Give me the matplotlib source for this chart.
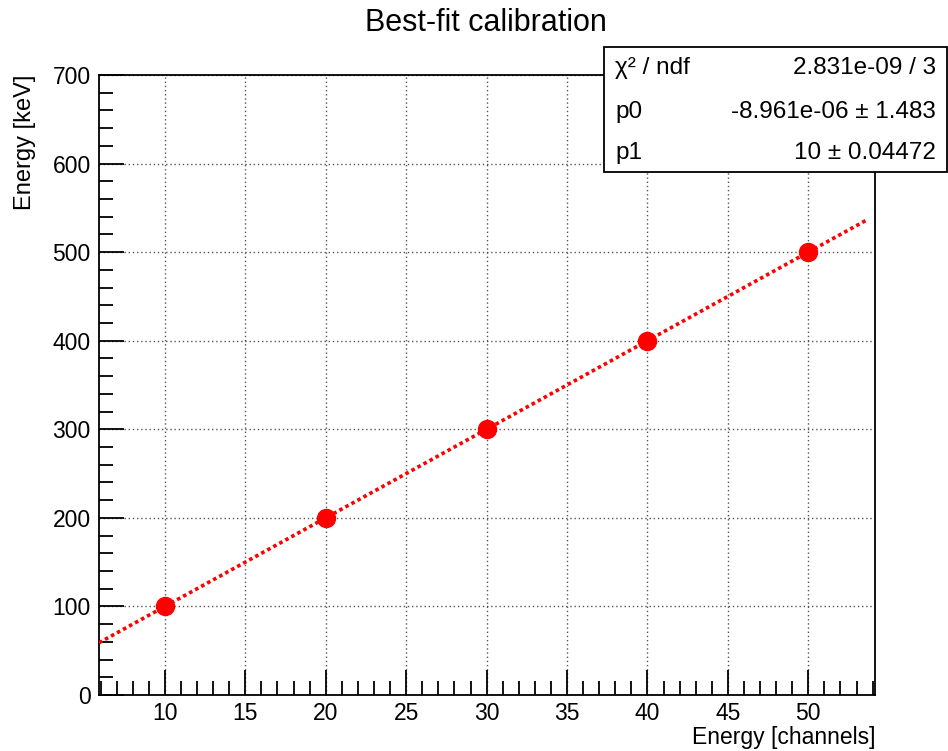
import matplotlib.pyplot as plt
from matplotlib.ticker import MultipleLocator
import numpy as np

plt.rcParams['font.family'] = ['Liberation Sans', 'DejaVu Sans']

# calibration points
channels = [10, 20, 30, 40, 50]
energy_kev = [100, 200, 300, 400, 500]

# fit result (pol1)
p0 = -8.961e-06
p1 = 10.0
stats_rows = [
    ("χ² / ndf", "2.831e-09 / 3"),
    ("p0", "-8.961e-06 ± 1.483"),
    ("p1", "10 ± 0.04472"),
]

fig = plt.figure(figsize=(9.48, 7.51), dpi=100)
ax = fig.add_axes([0.1044, 0.0746, 0.8186, 0.8255])

xmin, xmax = 5.9, 54.15
ax.set_xlim(xmin, xmax)
ax.set_ylim(0, 700)

# fitted line over the axis range
xf = np.linspace(xmin, 53.7, 200)
ax.plot(xf, p0 + p1 * xf, color='red', linestyle=(0, (1.0, 0.9)), linewidth=2.6, zorder=3)
ax.plot(channels, energy_kev, 'o', color='red', markersize=13, zorder=4)

ax.xaxis.set_major_locator(MultipleLocator(5))
ax.xaxis.set_minor_locator(MultipleLocator(1))
ax.yaxis.set_major_locator(MultipleLocator(100))
ax.yaxis.set_minor_locator(MultipleLocator(20))
ax.tick_params(which='both', direction='in', top=False, right=False, width=1.3, labelsize=16.5)
ax.tick_params(which='major', length=18)
ax.tick_params(which='minor', length=10)
ax.tick_params(axis='x', pad=5)
ax.tick_params(axis='y', pad=6)
for s in ax.spines.values():
    s.set_linewidth(1.3)

ax.grid(True, which='major', color='#555555', linestyle=(0, (1, 2)), linewidth=1.0)

ax.set_ylabel('Energy [keV]', fontsize=17, loc='top', labelpad=12)
# x title sits right-aligned under the axis end
fig.text(0.923, 0.003, 'Energy [channels]', ha='right', va='bottom', fontsize=16.5)

fig.text(0.513, 0.970, 'Best-fit calibration', ha='center', va='center', fontsize=22)

# stats box
box = plt.Rectangle((0.637, 0.771), 0.362, 0.167, transform=fig.transFigure,
                    facecolor='white', edgecolor='black', linewidth=1.3, zorder=10)
fig.add_artist(box)
row_y = [0.909, 0.851, 0.796]
for (name, val), y in zip(stats_rows, row_y):
    fig.text(0.649, y, name, ha='left', va='center', fontsize=17.5, zorder=11)
    fig.text(0.987, y, val, ha='right', va='center', fontsize=17.5, zorder=11)

fig.savefig('out.png', dpi=100)
